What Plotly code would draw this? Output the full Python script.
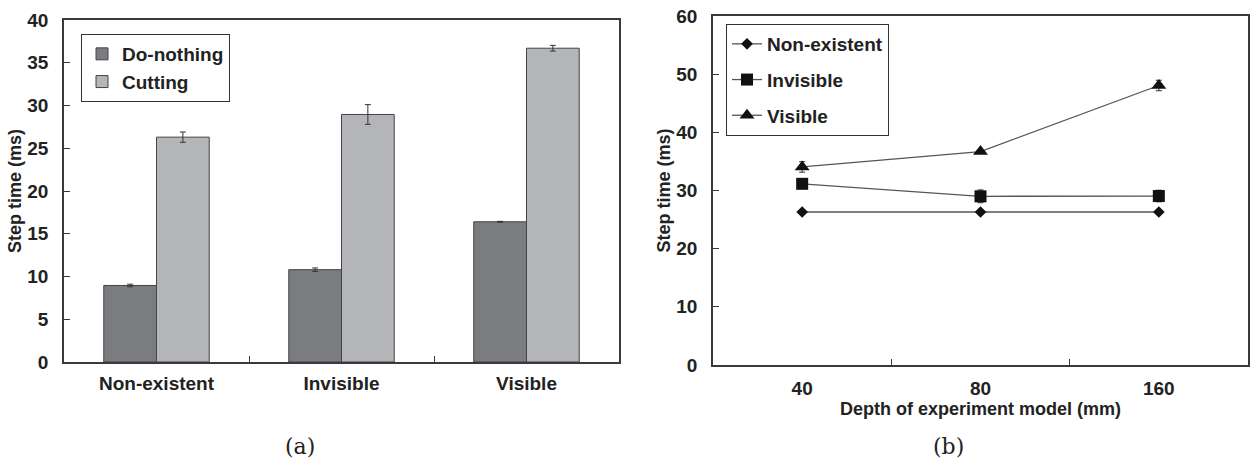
import plotly.graph_objects as go

# ---- data: panel (a) ----
conditions = ["Non-existent", "Invisible", "Visible"]
do_nothing = [8.95, 10.8, 16.4]
do_nothing_err = [0.15, 0.2, 0.05]
cutting = [26.3, 28.95, 36.7]
cutting_err = [0.6, 1.15, 0.33]
y_ticks_a = [0, 5, 10, 15, 20, 25, 30, 35, 40]

# ---- data: panel (b) ----
depths = ["40", "80", "160"]
non_existent = [26.3, 26.3, 26.3]
non_existent_err = [0.25, 0.25, 0.25]
invisible = [31.15, 29.0, 29.05]
invisible_err = [0.3, 1.1, 1.0]
visible = [34.05, 36.7, 48.05]
visible_err = [0.9, 0.25, 0.9]
y_ticks_b = [0, 10, 20, 30, 40, 50, 60]

W, H = 1250, 465
TXT = "#222222"
AX = "#3a3a3a"
FONT = "Liberation Sans, Arial, sans-serif"

def px_x(x):
    return x / W

def px_y(y):
    return 1 - y / H

fig = go.Figure()

err_style = dict(type="data", thickness=1, width=3, color="#333333", visible=True)

fig.add_trace(go.Bar(
    x=conditions, y=do_nothing, name="Do-nothing",
    marker=dict(color="#7b7c80", line=dict(color="#444444", width=1)),
    error_y=dict(array=do_nothing_err, **err_style),
    xaxis="x", yaxis="y", legend="legend", legendgroup="a1",
))
fig.add_trace(go.Bar(
    x=conditions, y=cutting, name="Cutting",
    marker=dict(color="#b4b5b9", line=dict(color="#444444", width=1)),
    error_y=dict(array=cutting_err, **err_style),
    xaxis="x", yaxis="y", legend="legend", legendgroup="a2",
))

line_style = dict(color="#555555", width=1.3)
fig.add_trace(go.Scatter(
    x=depths, y=non_existent, name="Non-existent", mode="lines+markers",
    line=line_style, marker=dict(symbol="diamond", size=9, color="#111111"),
    error_y=dict(array=non_existent_err, **err_style),
    xaxis="x2", yaxis="y2", legend="legend2", legendgroup="b1",
))
fig.add_trace(go.Scatter(
    x=depths, y=invisible, name="Invisible", mode="lines+markers",
    line=line_style, marker=dict(symbol="square", size=12, color="#111111"),
    error_y=dict(array=invisible_err, **err_style),
    xaxis="x2", yaxis="y2", legend="legend2", legendgroup="b2",
))
fig.add_trace(go.Scatter(
    x=depths, y=visible, name="Visible", mode="lines+markers",
    line=line_style, marker=dict(symbol="triangle-up", size=13, color="#111111"),
    error_y=dict(array=visible_err, **err_style),
    xaxis="x2", yaxis="y2", legend="legend2", legendgroup="b3",
))

tickfont = dict(family=FONT, size=19, color=TXT, weight="bold")
titlefont = dict(family=FONT, size=18, color=TXT, weight="bold")

common_axis = dict(
    showline=True, linecolor=AX, linewidth=1.6, mirror=True,
    showgrid=False, zeroline=False, ticks="inside", ticklen=6,
    tickcolor=AX, tickwidth=1, tickfont=tickfont, automargin=False,
)

fig.update_layout(
    width=W, height=H,
    margin=dict(l=0, r=0, t=0, b=0, autoexpand=False),
    paper_bgcolor="white", plot_bgcolor="white",
    showlegend=True,
    barmode="group", bargap=0.43, bargroupgap=0,
    xaxis=dict(domain=[px_x(64), px_x(619)], anchor="y", type="category",
               tickson="boundaries", range=[-0.5, 2.5], ticklabelstandoff=3,
               **common_axis),
    yaxis=dict(domain=[px_y(362), px_y(20)], anchor="x", range=[0, 40],
               tickvals=y_ticks_a, ticklabelstandoff=10,
               title=dict(text="Step time (ms)", font=titlefont, standoff=1),
               **common_axis),
    xaxis2=dict(domain=[px_x(713), px_x(1248)], anchor="y2", type="category",
                tickson="boundaries", range=[-0.5, 2.5], ticklabelstandoff=5,
                title=dict(text="Depth of experiment model (mm)", font=titlefont, standoff=4),
                **common_axis),
    yaxis2=dict(domain=[px_y(365), px_y(16)], anchor="x2", range=[0, 60],
                tickvals=y_ticks_b, ticklabelstandoff=10,
                title=dict(text="Step time (ms)", font=titlefont, standoff=1),
                **common_axis),
    legend=dict(x=px_x(81), y=px_y(34), xanchor="left", yanchor="top",
                bordercolor="#333333", borderwidth=1, bgcolor="white",
                font=dict(family=FONT, size=19, color=TXT, weight="bold"),
                tracegroupgap=0, itemwidth=30),
    legend2=dict(x=px_x(726), y=px_y(24), xanchor="left", yanchor="top",
                 bordercolor="#333333", borderwidth=1, bgcolor="white",
                 font=dict(family=FONT, size=19, color=TXT, weight="bold"),
                 tracegroupgap=8, itemwidth=30),
    annotations=[
        dict(text="(a)", x=px_x(300), y=px_y(446), xref="paper", yref="paper",
             xanchor="center", yanchor="middle", showarrow=False,
             font=dict(family="DejaVu Serif, serif", size=22, color=TXT)),
        dict(text="(b)", x=px_x(948), y=px_y(446), xref="paper", yref="paper",
             xanchor="center", yanchor="middle", showarrow=False,
             font=dict(family="DejaVu Serif, serif", size=22, color=TXT)),
    ],
)

fig.write_html(
    "out.html",
    config={"displayModeBar": False},
    post_script="document.body.style.margin='0';document.body.style.overflow='hidden';",
)
